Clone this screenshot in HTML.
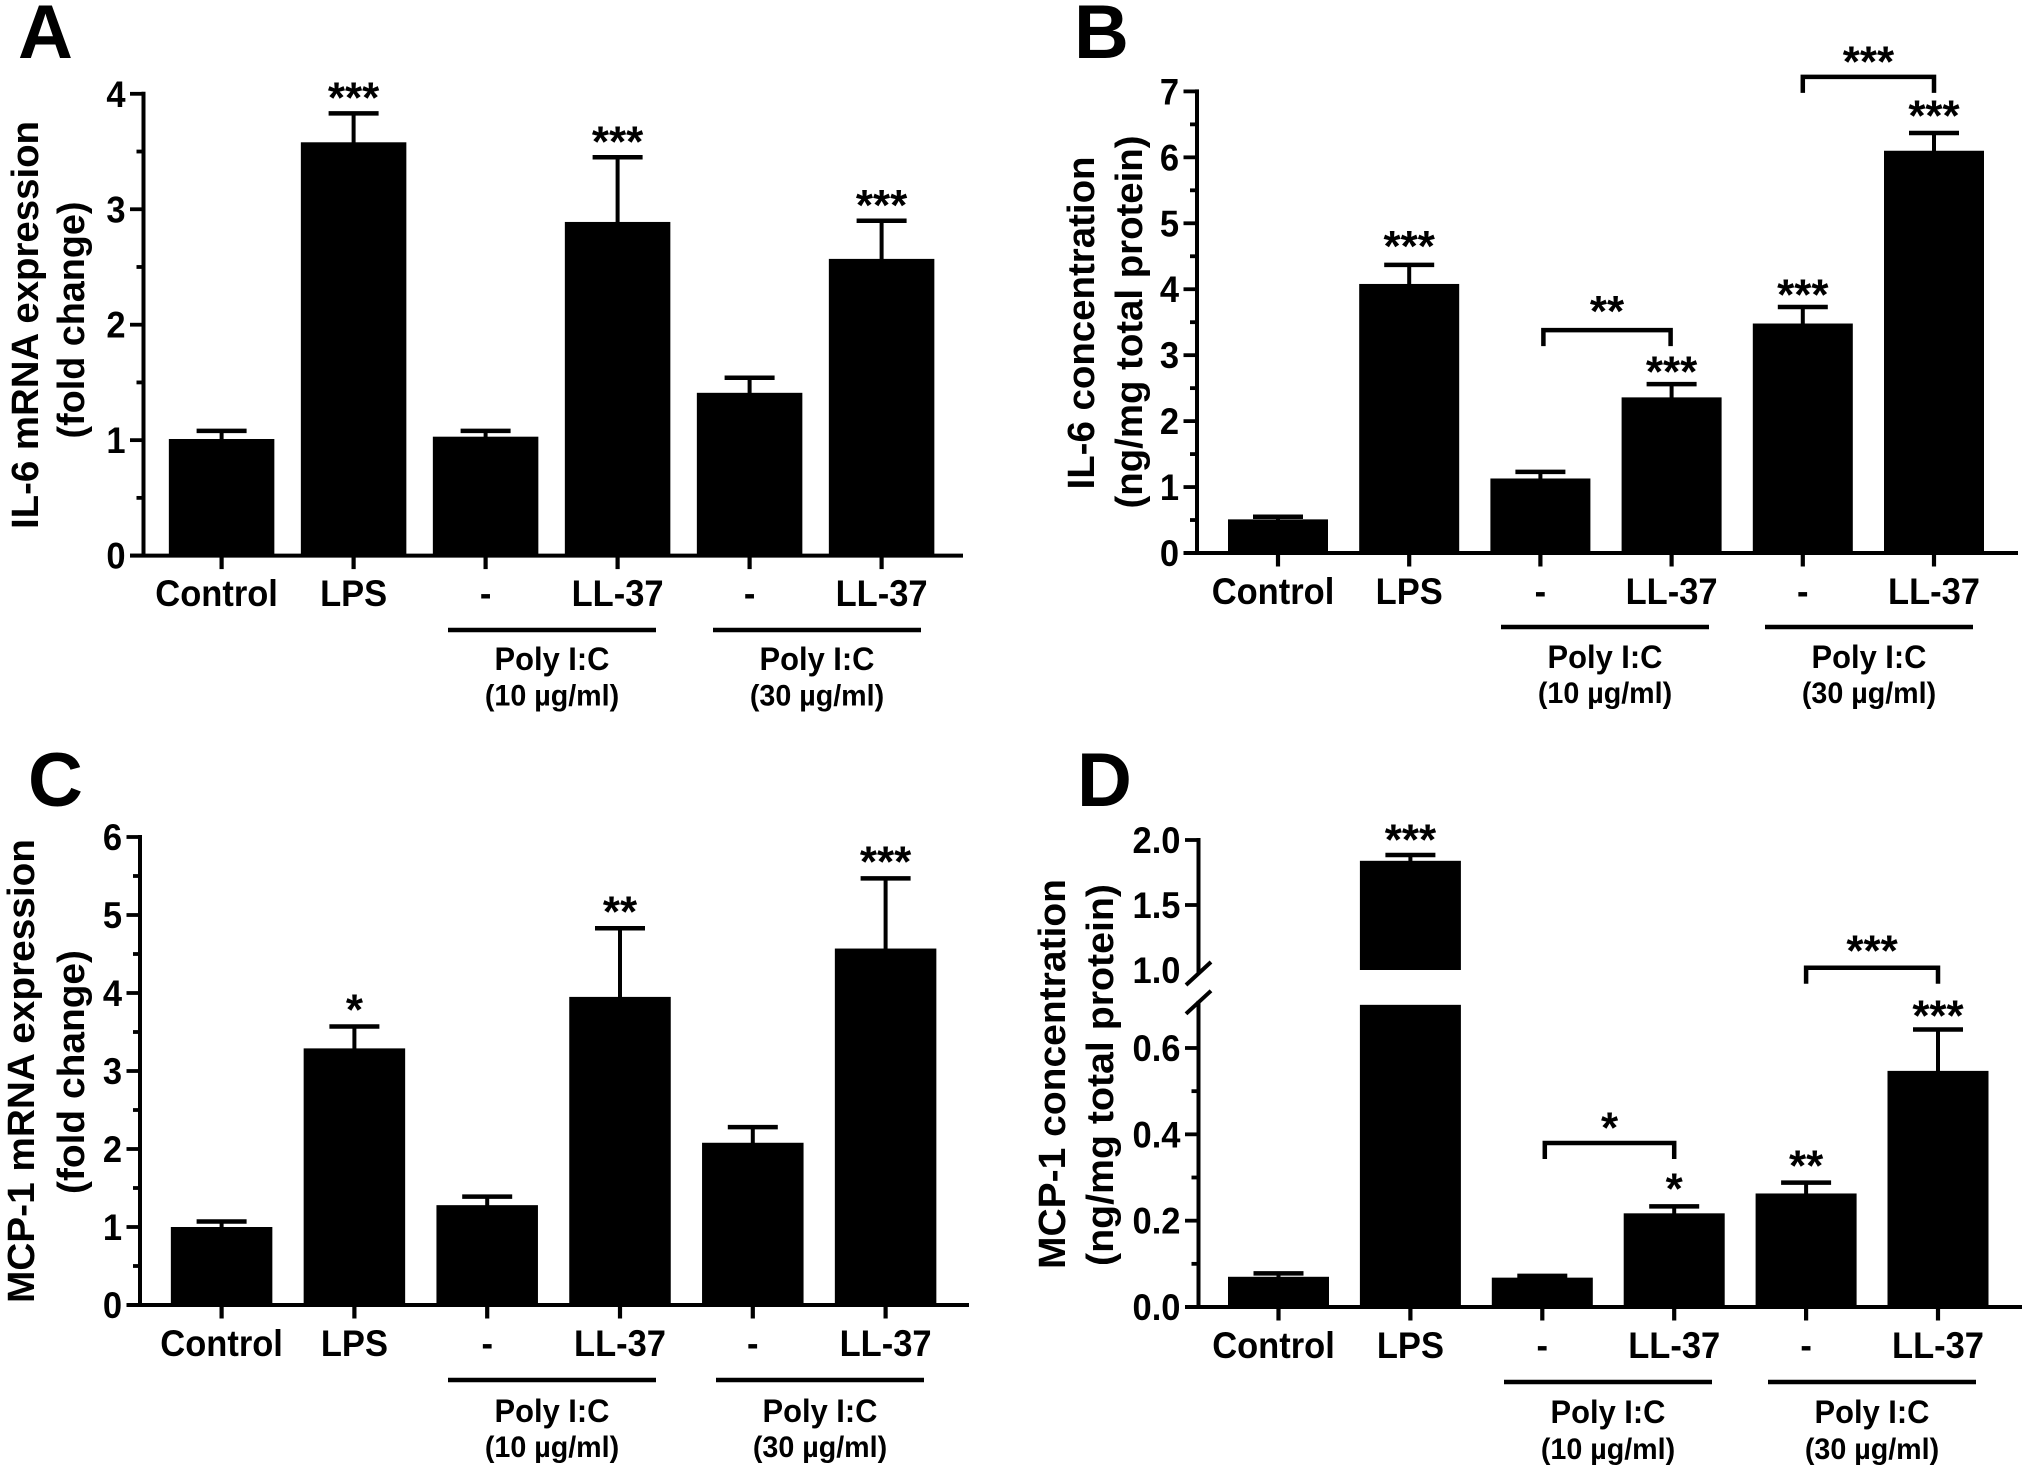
<!DOCTYPE html>
<html lang="en">
<head>
<meta charset="utf-8">
<title>IL-6 and MCP-1 expression and concentration charts</title>
<style>
html,body{margin:0;padding:0;background:#fff;}
svg{display:block;}
text{font-family:"Liberation Sans",Arial,sans-serif;font-weight:bold;fill:#000;}
</style>
</head>
<body>
<svg id="figure" xmlns="http://www.w3.org/2000/svg" width="2026" height="1470" viewBox="0 0 2026 1470">
<rect x="0" y="0" width="2026" height="1470" fill="#fff"/>
</svg>
<script>
const categories = ["Control", "LPS", "-", "LL-37", "-", "LL-37"];
const groupLine1 = "Poly I:C";
const groupDoses = ["(10 µg/ml)", "(30 µg/ml)"];

const meanA = [1.01, 3.58, 1.03, 2.89, 1.41, 2.57];
const errTopA = [1.08, 3.83, 1.08, 3.45, 1.54, 2.90];
const starsA = ["", "***", "", "***", "", "***"];
const ticksA = [0, 1, 2, 3, 4];
const minorA = [0.5, 1.5, 2.5, 3.5];
const tickLabelsA = ["0", "1", "2", "3", "4"];

const meanB = [0.51, 4.08, 1.13, 2.36, 3.48, 6.10];
const errTopB = [0.55, 4.37, 1.23, 2.56, 3.73, 6.37];
const starsB = ["", "***", "", "***", "***", "***"];
const ticksB = [0, 1, 2, 3, 4, 5, 6, 7];
const minorB = [0.5, 1.5, 2.5, 3.5, 4.5, 5.5, 6.5];
const tickLabelsB = ["0", "1", "2", "3", "4", "5", "6", "7"];
const bracketFromB = [2, 4];
const bracketToB = [3, 5];
const bracketLevelB = [3.38, 7.22];
const bracketLabelB = ["**", "***"];

const meanC = [1.00, 3.29, 1.28, 3.95, 2.08, 4.57];
const errTopC = [1.07, 3.57, 1.39, 4.83, 2.28, 5.47];
const starsC = ["", "*", "", "**", "", "***"];
const ticksC = [0, 1, 2, 3, 4, 5, 6];
const minorC = [0.5, 1.5, 2.5, 3.5, 4.5, 5.5];
const tickLabelsC = ["0", "1", "2", "3", "4", "5", "6"];

const meanD = [0.07, 1.84, 0.068, 0.217, 0.263, 0.547];
const errTopD = [0.078, 1.885, 0.072, 0.233, 0.288, 0.643];
const starsD = ["", "***", "", "*", "**", "***"];
const ticksD = [0, 0.2, 0.4, 0.6, 1.5, 2.0];
const minorD = [0.1, 0.3, 0.5];
const tickLabelsD = ["0.0", "0.2", "0.4", "0.6", "1.5", "2.0"];
const breakLabelD = "1.0";
const breakLabelValueD = 1.0;
const axisBreakLowD = 0.7;
const axisBreakHighD = 1.0;
const bracketFromD = [2, 4];
const bracketToD = [3, 5];
const bracketLevelD = [0.38, 0.786];
const bracketLabelD = ["*", "***"];

const svg = document.getElementById('figure');
const NS = 'http://www.w3.org/2000/svg';
const INK = '#000';
const NARROW = 0.92;

function shape(kind, attrs, parent, name) {
  const el = document.createElementNS(NS, kind);
  for (const k in attrs) el.setAttribute(k, attrs[k]);
  
  
  parent.appendChild(el);
  return el;
}
function line(x1, y1, x2, y2, w, parent, name) {
  return shape('line', {x1: x1, y1: y1, x2: x2, y2: y2, stroke: INK, 'stroke-width': w}, parent, name);
}
function label(str, x, y, size, anchor, parent, name, extra) {
  const attrs = Object.assign({x: x, y: y, 'font-size': size, 'text-anchor': anchor}, extra || {});
  const el = shape('text', attrs, parent, name);
  el.textContent = str;
  return el;
}
function narrowLabel(str, x, y, size, anchor, sx, parent, name) {
  return label(str, 0, 0, size, anchor, parent, name, {
    transform: 'translate(' + x + ',' + y + ') scale(' + sx + ',1)'
  });
}

function drawPanel(p) {
  const g = shape('g', {}, svg, 'panel-' + p.id);
  const yOf = p.yOf;
  const xOf = function (i) { return p.x0 + i * p.step; };

  label(p.letter, p.letterX, p.letterY, 76, 'start', g, 'panel-letter-' + p.id);

  // bars and error bars
  p.mean.forEach(function (v, i) {
    const cx = xOf(i), top = yOf(v), errY = yOf(p.errTop[i]);
    line(cx, top + 1, cx, errY, 4, g, 'error-stem-' + p.id + '-' + i);
    line(cx - 25, errY, cx + 25, errY, 4.5, g, 'error-cap-' + p.id + '-' + i);
    if (p.breakLow !== undefined && v > p.breakHigh) {
      shape('rect', {x: cx - p.barW / 2, y: top, width: p.barW, height: yOf(p.breakHigh) - top, fill: INK}, g, 'bar-upper-' + p.id + '-' + i);
      shape('rect', {x: cx - p.barW / 2, y: yOf(p.breakLow), width: p.barW, height: yOf(0) - yOf(p.breakLow), fill: INK}, g, 'bar-lower-' + p.id + '-' + i);
    } else {
      shape('rect', {x: cx - p.barW / 2, y: top, width: p.barW, height: yOf(0) - top, fill: INK}, g, 'bar-' + p.id + '-' + i);
    }
    if (p.stars[i]) {
      label(p.stars[i], cx, errY - 2 - p.starGap + 17 + p.starNudge[i], 44, 'middle', g, 'significance-' + p.id + '-' + i);
    }
  });

  // y axis
  if (p.breakLow !== undefined) {
    line(p.axisX, yOf(p.axisTop) - 2, p.axisX, yOf(p.breakHigh) + 4, 4, g, 'y-axis-upper-' + p.id);
    line(p.axisX, yOf(p.breakLow) - 4, p.axisX, yOf(0), 4, g, 'y-axis-lower-' + p.id);
    line(p.axisX - 12.5, yOf(p.breakHigh) + 15, p.axisX + 12.5, yOf(p.breakHigh) - 8, 4, g, 'axis-break-upper-' + p.id);
    line(p.axisX - 12.5, yOf(p.breakLow) + 9, p.axisX + 12.5, yOf(p.breakLow) - 14, 4, g, 'axis-break-lower-' + p.id);
    narrowLabel(p.breakLabel, p.axisX - 18, yOf(p.breakLabelValue) + 13, 37.5, 'end', NARROW, g, 'y-tick-label-' + p.id + '-break');
  } else {
    line(p.axisX, yOf(p.axisTop) - 2, p.axisX, yOf(0), 4, g, 'y-axis-' + p.id);
  }
  p.ticks.forEach(function (t, i) {
    const y = yOf(t);
    line(p.axisX - 13.5, y, p.axisX, y, 3.8, g, 'y-tick-' + p.id + '-' + i);
    narrowLabel(p.tickLabels[i], p.axisX - 18, y + 13, 37.5, 'end', NARROW, g, 'y-tick-label-' + p.id + '-' + i);
  });
  p.minor.forEach(function (t, i) {
    const y = yOf(t);
    line(p.axisX - 7, y, p.axisX, y, 3.8, g, 'y-minor-tick-' + p.id + '-' + i);
  });

  // x axis
  line(p.axisX - 13.5, yOf(0), p.axisEnd, yOf(0), 4, g, 'x-axis-' + p.id);
  categories.forEach(function (c, i) {
    const cx = xOf(i);
    line(cx, yOf(0), cx, yOf(0) + 13.5, 4.2, g, 'x-tick-' + p.id + '-' + i);
    narrowLabel(c, cx + (i === 0 ? p.controlDx : 0), p.catY, 37.5, 'middle', NARROW, g, 'x-category-label-' + p.id + '-' + i);
  });

  // treatment groups
  groupDoses.forEach(function (dose, i) {
    const cx = p.groupX[i];
    line(cx - 104, p.groupLineY, cx + 104, p.groupLineY, 4.5, g, 'group-line-' + p.id + '-' + i);
    narrowLabel(groupLine1, cx, p.polyY, 32, 'middle', 0.965, g, 'group-label-' + p.id + '-' + i);
    narrowLabel(dose, cx, p.doseY, 30, 'middle', 0.955, g, 'group-dose-' + p.id + '-' + i);
  });

  // comparison brackets
  (p.bracketFrom || []).forEach(function (from, i) {
    const xa = xOf(from) + p.bracketInset[i], xb = xOf(p.bracketTo[i]) - p.bracketInsetRight[i], y = yOf2(p, p.bracketLevel[i]);
    shape('path', {d: 'M' + xa + ' ' + (y + 16) + 'V' + y + 'H' + xb + 'V' + (y + 16), fill: 'none', stroke: INK, 'stroke-width': 4.5}, g, 'comparison-bracket-' + p.id + '-' + i);
    label(p.bracketLabel[i], (xa + xb) / 2, y + 2 + p.bracketNudge[i], 44, 'middle', g, 'comparison-significance-' + p.id + '-' + i);
  });

  // y titles
  p.titles.forEach(function (t, i) {
    label(t.text, 0, 0, 38, 'middle', g, 'y-axis-title-' + p.id + '-' + i, {
      transform: 'translate(' + t.x + ',' + t.y + ') rotate(-90)',
      textLength: t.len,
      lengthAdjust: 'spacingAndGlyphs'
    });
  });
}
function yOf2(p, v) {
  return p.bracketScale ? p.bracketScale(v) : p.yOf(v);
}

function linearScale(y0, yTop, top) {
  return function (v) { return y0 - v * (y0 - yTop) / top; };
}

drawPanel({
  id: 'a', letter: 'A', letterX: 18, letterY: 58,
  mean: meanA, errTop: errTopA, stars: starsA, ticks: ticksA, minor: minorA, tickLabels: tickLabelsA,
  yOf: linearScale(555.6, 93.8, 4), axisTop: 4,
  axisX: 143.5, axisEnd: 963, x0: 221.6, step: 132, barW: 105.5, starGap: 11.7,
  starNudge: [0, -4, 0, -4, 0, -4],
  catY: 606, controlDx: -5, groupX: [552, 817], groupLineY: 630, polyY: 670, doseY: 705.5,
  titles: [
    {text: 'IL-6 mRNA expression', x: 38, y: 325, len: 408},
    {text: '(fold change)', x: 84, y: 320, len: 237}
  ]
});
drawPanel({
  id: 'b', letter: 'B', letterX: 1074, letterY: 58,
  mean: meanB, errTop: errTopB, stars: starsB, ticks: ticksB, minor: minorB, tickLabels: tickLabelsB,
  yOf: linearScale(553, 91.4, 7), axisTop: 7,
  axisX: 1197, axisEnd: 2018, x0: 1278, step: 131.2, barW: 100, starGap: 15,
  starNudge: [0, -4, 0, 2.5, 2.5, -2.5],
  catY: 604, controlDx: -5, groupX: [1605, 1869], groupLineY: 627, polyY: 668, doseY: 703,
  bracketFrom: bracketFromB, bracketTo: bracketToB, bracketLevel: bracketLevelB, bracketLabel: bracketLabelB,
  bracketInset: [3, 0], bracketInsetRight: [1, 0], bracketNudge: [-6, -2.5],
  titles: [
    {text: 'IL-6 concentration', x: 1094, y: 323, len: 333},
    {text: '(ng/mg total protein)', x: 1142, y: 322, len: 373}
  ]
});
drawPanel({
  id: 'c', letter: 'C', letterX: 28, letterY: 806,
  mean: meanC, errTop: errTopC, stars: starsC, ticks: ticksC, minor: minorC, tickLabels: tickLabelsC,
  yOf: linearScale(1305, 837, 6), axisTop: 6,
  axisX: 140, axisEnd: 969, x0: 221.6, step: 132.8, barW: 101.5, starGap: 16,
  starNudge: [0, -1, 0, -1, 0, -1],
  catY: 1356, controlDx: 0, groupX: [552, 820], groupLineY: 1380, polyY: 1422, doseY: 1457,
  titles: [
    {text: 'MCP-1 mRNA expression', x: 34, y: 1071, len: 464},
    {text: '(fold change)', x: 84, y: 1072, len: 244}
  ]
});
const lowerD = linearScale(1307, 1048, 0.6);
const upperD = function (v) { return 970 - (v - axisBreakHighD) * 130; };
drawPanel({
  id: 'd', letter: 'D', letterX: 1077, letterY: 806,
  mean: meanD, errTop: errTopD, stars: starsD, ticks: ticksD, minor: minorD, tickLabels: tickLabelsD,
  yOf: function (v) { return v <= axisBreakLowD ? lowerD(v) : upperD(v); },
  bracketScale: lowerD,
  axisTop: 2.0, breakLow: axisBreakLowD, breakHigh: axisBreakHighD,
  breakLabel: breakLabelD, breakLabelValue: breakLabelValueD,
  starNudge: [0, -2.5, 0, -5, -4, -1],
  axisX: 1198.5, axisEnd: 2022, x0: 1278.5, step: 131.9, barW: 101, starGap: 13,
  catY: 1358, controlDx: -5, groupX: [1608, 1872], groupLineY: 1382, polyY: 1423, doseY: 1459,
  bracketFrom: bracketFromD, bracketTo: bracketToD, bracketLevel: bracketLevelD, bracketLabel: bracketLabelD,
  bracketInset: [2.5, 0], bracketInsetRight: [0, 0], bracketNudge: [-2.5, -4],
  titles: [
    {text: 'MCP-1 concentration', x: 1065, y: 1074, len: 390},
    {text: '(ng/mg total protein)', x: 1113, y: 1075, len: 382}
  ]
});
</script>
</body>
</html>
